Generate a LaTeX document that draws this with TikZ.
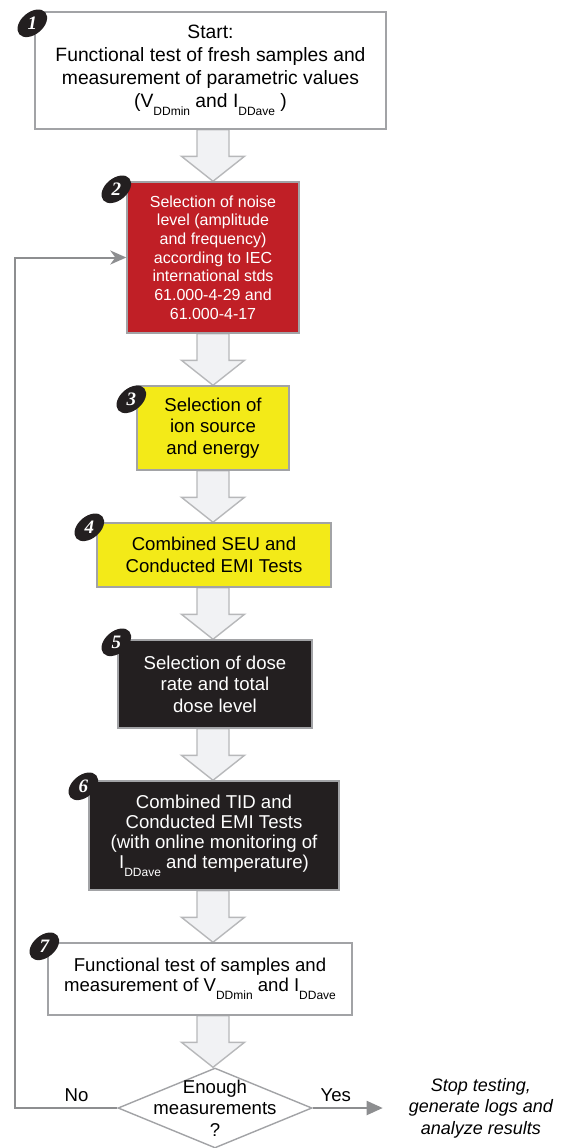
\documentclass[tikz,border=0pt]{standalone}
\usepackage{fontspec}
\setmainfont{Liberation Sans}
\newfontfamily\badgefont{Liberation Serif}
\usetikzlibrary{arrows.meta,positioning,shapes.geometric,calc,backgrounds}
\definecolor{framegray}{HTML}{A2A3A6}
\definecolor{flowgray}{HTML}{8D8E90}
\definecolor{arrowfill}{HTML}{F1F2F4}
\definecolor{arrowdraw}{HTML}{B7B8BA}
\definecolor{noisered}{HTML}{C01F26}
\definecolor{ionyellow}{HTML}{F3EA18}
\definecolor{dosedark}{HTML}{231F20}
\newcommand{\lowsub}[1]{\raisebox{-8pt}{\fontsize{12}{12}\selectfont #1}}
\newcommand{\blockarrow}[2]{%
  \draw[blockarrow] let \p1=(#1.south -| flowaxis), \p2=(#2.north -| flowaxis) in
    ({\x1-16pt},\y1) -- ({\x1-16pt},{\y2+25pt}) -- ({\x1-31.5pt},{\y2+25pt})
    -- (\x1,\y2) -- ({\x1+31.5pt},{\y2+25pt}) -- ({\x1+16pt},{\y2+25pt})
    -- ({\x1+16pt},\y1) -- cycle;}
\tikzset{
  stepbox/.style={
    rectangle, draw=framegray, line width=1.4pt, fill=#1,
    align=center, inner sep=2pt,
    font=\fontsize{18.6}{21.5}\selectfont
  },
  stepbox/.default=white,
  decision/.style={
    diamond, draw=framegray, line width=1.4pt, fill=white,
    minimum width=194pt, minimum height=80pt, inner sep=0pt
  },
  decisiontext/.style={
    align=center, inner sep=0pt, font=\fontsize{18.6}{21.5}\selectfont
  },
  blockarrow/.style={
    draw=arrowdraw, fill=arrowfill, line width=1.4pt, line join=miter
  },
  flowline/.style={
    draw=flowgray, line width=2pt
  },
  flowlabel/.style={
    font=\fontsize{18.6}{21.5}\selectfont, inner sep=3pt, yshift=2pt
  },
  stoptext/.style={
    align=center, inner sep=0pt, font=\itshape\fontsize{18}{21.5}\selectfont
  },
  badge/.style={
    ellipse, fill=dosedark, minimum width=34pt, minimum height=22pt,
    inner sep=0pt, rotate=40
  },
  badgenum/.style={
    text=white, inner sep=0pt,
    font=\badgefont\bfseries\itshape\fontsize{19}{19}\selectfont
  },
}
\begin{document}
\begin{tikzpicture}[x=1pt, y=1pt, node distance=51.6pt]
  \useasboundingbox (0,0) rectangle (562,-1148);
  \coordinate (flowaxis) at (213,0);
  % Test steps
  \node[stepbox, minimum width=351pt, minimum height=117pt,
        font=\fontsize{19.3}{23}\selectfont] (box1) at (210.5,-70.5)
        {Start:\\Functional test of fresh samples and\\measurement of parametric values\\(V\lowsub{DDmin} and I\lowsub{DDave} )};
  \node[stepbox=noisered, text=white, minimum width=172pt, minimum height=151pt,
        font=\fontsize{16}{18.7}\selectfont, below=of box1, xshift=2.5pt] (box2)
        {Selection of noise\\level (amplitude\\and frequency)\\according to IEC\\international stds\\61.000-4-29 and\\61.000-4-17};
  \node[stepbox=ionyellow, minimum width=152pt, minimum height=84pt, below=of box2] (box3)
        {Selection of\\ion source\\and energy};
  \node[stepbox=ionyellow, minimum width=234pt, minimum height=64pt, below=of box3, xshift=1pt] (box4)
        {Combined SEU and\\Conducted EMI Tests};
  \node[stepbox=dosedark, text=white, minimum width=194pt, minimum height=88pt, below=of box4, xshift=1pt] (box5)
        {Selection of dose\\rate and total\\dose level};
  \node[stepbox=dosedark, text=white, minimum width=250pt, minimum height=109pt,
        font=\fontsize{18.6}{20}\selectfont, below=of box5, xshift=-1pt] (box6)
        {Combined TID and\\Conducted EMI Tests\\(with online monitoring of\\I\lowsub{DDave} and temperature)};
  \node[stepbox, minimum width=304pt, minimum height=72pt,
        font=\fontsize{18.6}{20}\selectfont, below=of box6, xshift=-14pt] (box7)
        {Functional test of samples and\\measurement of V\lowsub{DDmin} and I\lowsub{DDave}};
  % Decision
  \node[decision, below=of box7, xshift=15pt] (check) {};
  \node[decisiontext] (checktext) at (check) {Enough\\measurements\\?};
  % Block arrows between steps
  \begin{scope}[on background layer]
    \blockarrow{box1}{box2}
    \blockarrow{box2}{box3}
    \blockarrow{box3}{box4}
    \blockarrow{box4}{box5}
    \blockarrow{box5}{box6}
    \blockarrow{box6}{box7}
    \blockarrow{box7}{check}
  \end{scope}
  % Yes branch
  \coordinate[right=70pt of check.east] (yesend);
  \node[stoptext, right=26pt of yesend] (stop) {Stop testing,\\generate logs and\\analyze results};
  \draw[flowline, -{Triangle[length=16pt,width=14pt]}] (check.east)
        -- node[flowlabel, above, pos=0.33] {Yes} (yesend);
  % No branch, back to noise selection
  \draw[flowline, -{Stealth[length=16pt,width=14pt,inset=5pt]}] (check.west)
        -- node[flowlabel, above, pos=0.4] {No} ++(-102pt,0) |- (box2.west);
  % Step numbers
  \node[badge] (badge1) at ([shift={(-2pt,-12pt)}]box1.north west) {};
  \node[badgenum] (num1) at (badge1) {1};
  \node[badge] (badge2) at ([shift={(-10pt,-8pt)}]box2.north west) {};
  \node[badgenum] (num2) at (badge2) {2};
  \node[badge] (badge3) at ([shift={(-5pt,-14pt)}]box3.north west) {};
  \node[badgenum] (num3) at (badge3) {3};
  \node[badge] (badge4) at ([shift={(-7pt,-5pt)}]box4.north west) {};
  \node[badgenum] (num4) at (badge4) {4};
  \node[badge] (badge5) at ([shift={(-1pt,-3pt)}]box5.north west) {};
  \node[badgenum] (num5) at (badge5) {5};
  \node[badge] (badge6) at ([shift={(-5pt,-6pt)}]box6.north west) {};
  \node[badgenum] (num6) at (badge6) {6};
  \node[badge] (badge7) at ([shift={(-3pt,-4pt)}]box7.north west) {};
  \node[badgenum] (num7) at (badge7) {7};
\end{tikzpicture}
\end{document}
